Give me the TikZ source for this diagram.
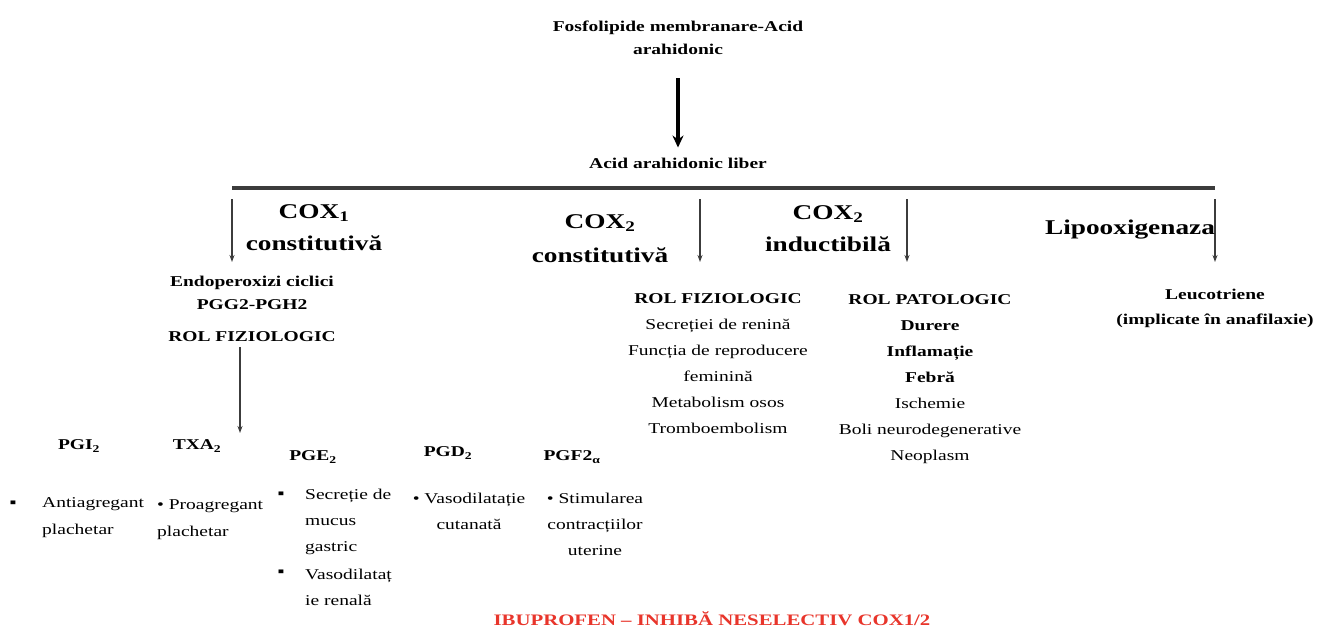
\documentclass[tikz,border=0pt]{standalone}
\usepackage{fontspec}
\setmainfont{Liberation Serif}[FakeStretch=1.3]
\usepackage{xcolor}
\usepackage{tikz}
\usetikzlibrary{arrows.meta,positioning}
\definecolor{barcol}{HTML}{3C3C3C}
\definecolor{ibured}{HTML}{E8352B}

\begin{document}
\begin{tikzpicture}[x=1pt, y=-1pt,
  lbl/.style={inner sep=0pt, align=center, font=\fontsize{15}{23}\selectfont\bfseries},
  cox/.style={inner sep=0pt, align=center, font=\fontsize{21}{32}\selectfont\bfseries},
  lst/.style={inner sep=0pt, align=center, font=\fontsize{15}{26}\selectfont},
  itm/.style={inner sep=0pt, align=left, anchor=west, font=\fontsize{15}{27}\selectfont},
  sq/.style={inner sep=0pt, font=\fontsize{15}{15}\selectfont},
  arr/.style={-{Stealth[length=7pt,width=5pt]}, line width=1.6pt, draw=barcol},
  bigarr/.style={-{Stealth[length=12pt,width=11pt]}, line width=3.5pt}]
\useasboundingbox (0,0) rectangle (1320,630);
% top of the cascade
\node[lbl] (fosfo) at (678,38) {Fosfolipide membranare-Acid\\arahidonic};
\node[lbl] (liber) at (678,163) {Acid arahidonic liber};
\draw[bigarr, shorten <=23pt, shorten >=10pt] (fosfo.south) -- (liber.north);
\coordinate (barL) at (232,188);
\coordinate (barR) at (1215,188);
\draw[line width=4pt, draw=barcol] (barL) -- (barR);
\foreach \xa/\nm in {232/one,700/two,907/three,1215/four}{
  \coordinate (top\nm) at (\xa,199);
  \coordinate (tip\nm) at (\xa,262);
  \draw[arr] (top\nm) -- (tip\nm);
}
% enzymes
\node[cox] (cox1) at (314,228) {COX\textsubscript{1}\\constitutivă};
\node[cox, font=\fontsize{21}{34}\selectfont\bfseries] (cox2c) at (600,239) {COX\textsubscript{2}\\constitutivă};
\node[cox] (cox2i) at (828,229) {COX\textsubscript{2}\\inductibilă};
\node[cox] (lipo) at (1130,230) {Lipooxigenaza};
% COX1 branch
\node[lbl] (endo) at (252,293) {Endoperoxizi ciclici\\PGG2-PGH2};
\node[lbl, below=21pt of endo] (rolfiz1) {ROL FIZIOLOGIC};
\coordinate (tiptx) at (240,433);
\draw[arr, shorten <=6pt] (rolfiz1.south -| tiptx) -- (tiptx);
% COX2 constitutive
\node[lst] (rolfiz2) at (718,364) {\textbf{ROL FIZIOLOGIC}\\Secreției de renină\\Funcția de reproducere\\feminină\\Metabolism osos\\Tromboembolism};
% COX2 inducible
\node[lst] (rolpat) at (930,379) {\textbf{ROL PATOLOGIC}\\\textbf{Durere}\\\textbf{Inflamație}\\\textbf{Febră}\\Ischemie\\Boli neurodegenerative\\Neoplasm};
% lipooxygenase
\node[lbl, font=\fontsize{15}{25}\selectfont\bfseries] (leuco) at (1215,308) {Leucotriene\\(implicate în anafilaxie)};
% prostanoids
\node[lbl] (pgi) at (79,446) {PGI\textsubscript{2}};
\node[lbl] (txa) at (197,446) {TXA\textsubscript{2}};
\node[lbl] (pge) at (313,457) {PGE\textsubscript{2}};
\node[lbl] (pgd) at (448,453) {PGD\textsubscript{2}};
\node[lbl] (pgf) at (572,457) {PGF2\textsubscript{α}};
\node[sq] (pgib) at (13,504) {▪};
\node[itm] (pgit) at (42,518) {Antiagregant\\plachetar};
\node[itm] (txat) at (157,520) {• Proagregant\\plachetar};
\node[sq] (pgeb1) at (281,495) {▪};
\node[itm, font=\fontsize{15}{26}\selectfont] (pget1) at (305,522) {Secreție de\\mucus\\gastric};
\node[sq] (pgeb2) at (281,573) {▪};
\node[itm, font=\fontsize{15}{26}\selectfont] (pget2) at (305,587) {Vasodilataț\\ie renală};
\node[lst] (pgdt) at (469,511) {• Vasodilatație\\cutanată};
\node[lst] (pgft) at (595,524) {• Stimularea\\contracțiilor\\uterine};
% drug note
\node[lbl, text=ibured, font=\fontsize{16}{20}\selectfont\bfseries] (ibu) at (712,619) {IBUPROFEN – INHIBĂ NESELECTIV COX1/2};
\end{tikzpicture}
\end{document}
